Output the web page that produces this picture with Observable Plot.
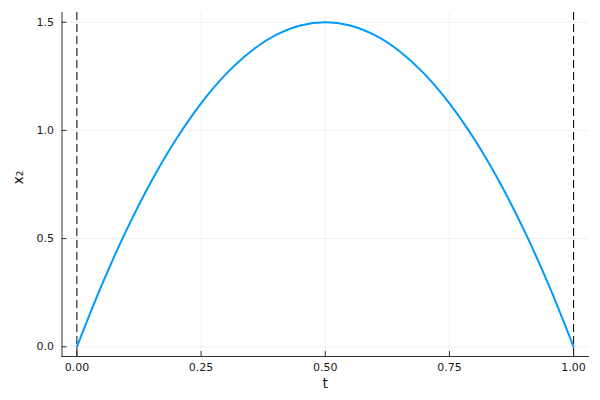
<!DOCTYPE html>
<html>
<head>
<meta charset="utf-8">
<script src="https://cdn.jsdelivr.net/npm/d3@7"></script>
<script src="https://cdn.jsdelivr.net/npm/@observablehq/plot@0.6"></script>
<style>
  html, body { margin: 0; padding: 0; background: #fff; }
  svg { display: block; }
</style>
</head>
<body>
<div id="chart"></div>
<script>
const tValues = [0, 0.05, 0.1, 0.15, 0.2, 0.25, 0.3, 0.35, 0.4, 0.45, 0.5,
                 0.55, 0.6, 0.65, 0.7, 0.75, 0.8, 0.85, 0.9, 0.95, 1.0];
const x2Values = [0, 0.285, 0.54, 0.765, 0.96, 1.125, 1.26, 1.365, 1.44, 1.485, 1.5,
                  1.485, 1.44, 1.365, 1.26, 1.125, 0.96, 0.765, 0.54, 0.285, 0];
const vlines = [0, 1];
const xTicks = [0, 0.25, 0.5, 0.75, 1.0];
const xTickLabels = ["0.00", "0.25", "0.50", "0.75", "1.00"];
const yTicks = [0, 0.5, 1.0, 1.5];
const yTickLabels = ["0.0", "0.5", "1.0", "1.5"];
const xLabel = "t";
const yLabel = "x₂";

const data = tValues.map((t, i) => ({t, x2: x2Values[i]}));

const W = 600, H = 400;
const mL = 61.5, mR = 12, mT = 12, mB = 44;
const plotW = W - mL - mR, plotH = H - mT - mB;
const font = "DejaVu Sans, sans-serif";

const chart = Plot.plot({
  width: W, height: H,
  marginLeft: mL, marginRight: mR, marginTop: mT, marginBottom: mB,
  style: {fontFamily: font, fontSize: "11px", color: "#1a1a1a", background: "#fff"},
  x: {domain: [-0.03, 1.03]},
  y: {domain: [-0.045, 1.545]},
  marks: [
    Plot.gridX(xTicks, {stroke: "#000", strokeOpacity: 0.06, strokeWidth: 1}),
    Plot.gridY(yTicks, {stroke: "#000", strokeOpacity: 0.06, strokeWidth: 1}),
    Plot.ruleX(vlines, {stroke: "#000", strokeWidth: 1, strokeDasharray: "8,4"}),
    Plot.line(data, {x: "t", y: "x2", stroke: "#009AFA", strokeWidth: 2, curve: "catmull-rom"}),
    Plot.tickX(xTicks, {x: d => d, stroke: "#333", insetTop: plotH - 5}),
    Plot.tickY(yTicks, {y: d => d, stroke: "#333", insetRight: plotW - 5}),
    Plot.frame({anchor: "bottom", stroke: "#333", strokeWidth: 1}),
    Plot.frame({anchor: "left", stroke: "#333", strokeWidth: 1}),
    Plot.axisX(xTicks, {tickSize: 0, tickPadding: 7, tickFormat: (d, i) => xTickLabels[i],
      label: null, fontSize: 11}),
    Plot.axisY(yTicks, {tickSize: 0, tickPadding: 8, tickFormat: (d, i) => yTickLabels[i],
      label: null, fontSize: 11}),
    Plot.text([xLabel], {text: d => d, frameAnchor: "bottom", dy: 31, fontSize: 14, fill: "#1a1a1a"}),
    Plot.text([yLabel], {text: d => d, frameAnchor: "left", rotate: -90, dx: -43, fontSize: 14, fill: "#1a1a1a"})
  ]
});
document.getElementById("chart").appendChild(chart);
</script>
</body>
</html>
